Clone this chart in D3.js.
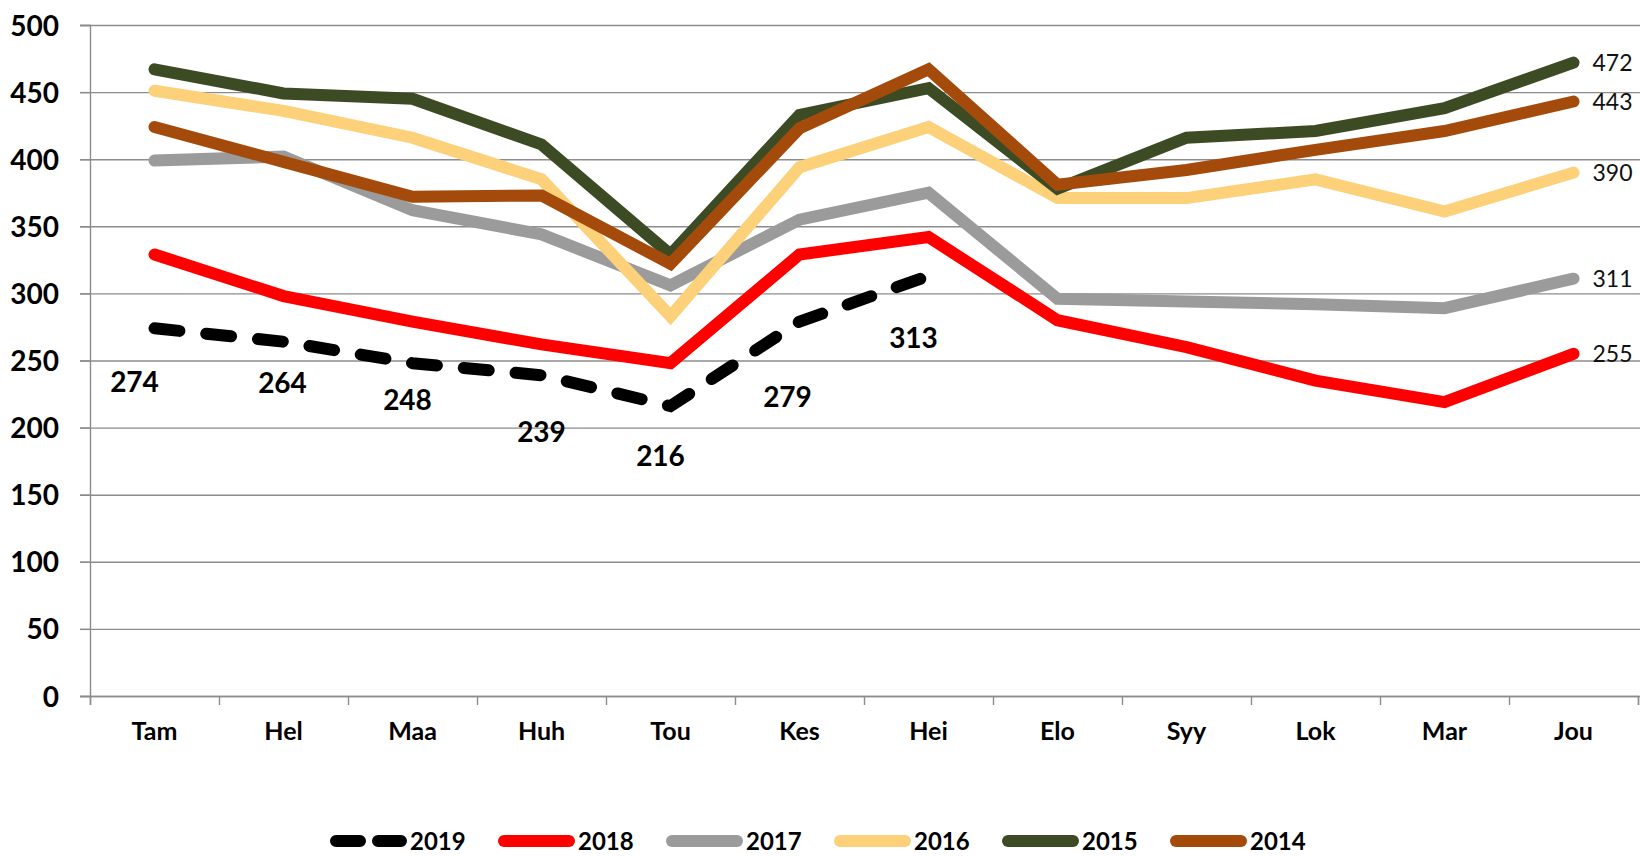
<!DOCTYPE html>
<html><head><meta charset="utf-8">
<script src="https://cdn.jsdelivr.net/npm/d3@7"></script>
<style>
body{margin:0;background:#fff;}
text{font-family:Lato,"Open Sans",sans-serif;}
</style>
</head><body>
<svg id="chart" width="1640" height="856"></svg>
<script>
// ---- data ----
const months = ["Tam","Hel","Maa","Huh","Tou","Kes","Hei","Elo","Syy","Lok","Mar","Jou"];
const years = ["2019","2018","2017","2016","2015","2014"];
const v2019 = [274,264,248,239,216,279,313];
const v2018 = [329,298,279,262,248,329,342,280,260,235,219,255];
const v2017 = [399,402,362,344,306,355,375,296,294,292,289,311];
const v2016 = [451,436,416,385,283,394,424,371,371,385,361,390];
const v2015 = [467,449,445,411,329,433,453,378,416,421,438,472];
const v2014 = [424,398,372,373,322,423,467,381,392,407,421,443];
const yTicks = [0,50,100,150,200,250,300,350,400,450,500];
const endLabelYears = ["2015","2014","2016","2017","2018"];

// ---- styling / layout (not data) ----
const colors = {"2019":"#000000","2018":"#FF0000","2017":"#9B9B9B","2016":"#FDD07A","2015":"#3D4B24","2014":"#A44B0B"};
const valuesByYear = {"2019":v2019,"2018":v2018,"2017":v2017,"2016":v2016,"2015":v2015,"2014":v2014};
// manual label offsets for 2019 labels (dx, dy from the point), as placed in the original
const labelOffsets2019 = [[-20,54],[-1,41],[-5,37],[0,57],[-10,50],[-12,75],[-15,62]];

const svg = d3.select("#chart");
const plotL = 90, plotR = 1638, plotT = 25, plotB = 696;

const x = d3.scaleBand().domain(months).range([plotL, plotR]).paddingInner(0).paddingOuter(0);
const xc = m => x(m) + x.bandwidth()/2;
const y = d3.scaleLinear().domain([0,500]).range([plotB, plotT]);
const xb = d3.scaleLinear().domain([0, months.length]).range([plotL, plotR]);

// gridlines
const grid = svg.append("g").attr("transform", `translate(${plotL-10},0)`)
  .call(d3.axisRight(y).tickValues(yTicks).tickSize(1640-(plotL-10)).tickFormat(""));
grid.select(".domain").remove();
grid.selectAll("line").attr("stroke","#8c8c8c").attr("stroke-width",1.4);

// y axis
const ya = svg.append("g").attr("transform", `translate(${plotL},0)`)
  .call(d3.axisLeft(y).tickValues(yTicks).tickSize(10).tickPadding(21));
ya.select(".domain").attr("stroke","#8c8c8c").attr("stroke-width",1.4);
ya.selectAll("line").attr("stroke","#8c8c8c").attr("stroke-width",1.4);
ya.selectAll("text").attr("font-family","Lato").attr("font-weight","bold").attr("font-size",28).attr("fill","#000").attr("dy","0.36em");

// x axis tick marks at band boundaries
const xt = svg.append("g").attr("transform", `translate(0,${plotB})`)
  .call(d3.axisBottom(xb).tickValues(d3.range(months.length+1)).tickSize(9).tickFormat(""));
xt.select(".domain").attr("stroke","#8c8c8c").attr("stroke-width",1.4);
xt.selectAll("line").attr("stroke","#8c8c8c").attr("stroke-width",1.4);

// x axis labels
const xl = svg.append("g").attr("transform", `translate(0,${plotB})`)
  .call(d3.axisBottom(x).tickSize(0).tickPadding(0));
xl.select(".domain").remove();
xl.selectAll("text").attr("font-family","Lato").attr("font-weight","bold").attr("font-size",25).attr("fill","#000")
  .attr("y",44).attr("dy","0");

// lines (drawn in legend order; later ones on top)
const line = d3.line().x((d,i)=>xc(months[i])).y(d=>y(d));
years.forEach(yr => {
  const p = svg.append("path").datum(valuesByYear[yr])
    .attr("d", line).attr("fill","none").attr("stroke", colors[yr])
    .attr("stroke-width", 12).attr("stroke-linecap","round").attr("stroke-linejoin","miter").attr("stroke-miterlimit",3);
  if (yr === "2019") p.attr("stroke-dasharray","25,27");
});

// 2019 data labels
svg.append("g").selectAll("text").data(v2019).join("text")
  .attr("x",(d,i)=>xc(months[i]) + labelOffsets2019[i][0])
  .attr("y",(d,i)=>y(d) + labelOffsets2019[i][1])
  .attr("dy","0.36em").attr("text-anchor","middle")
  .attr("font-weight","bold").attr("font-size",28).attr("fill","#000")
  .text(d=>d);

// end labels
const lastM = months[months.length-1];
svg.append("g").selectAll("text").data(endLabelYears).join("text")
  .attr("x", xc(lastM) + 19)
  .attr("y", yr => y(valuesByYear[yr][months.length-1]))
  .attr("dy","0.36em").attr("font-size",23).attr("fill","#111")
  .text(yr => valuesByYear[yr][months.length-1]);

// legend
const legendX = d3.scaleBand().domain(years).range([330, 330+168*6]).paddingInner(0).paddingOuter(0);
const lg = svg.append("g").selectAll("g").data(years).join("g")
  .attr("transform", yr => `translate(${legendX(yr)},841)`);
lg.append("line").attr("x1",6).attr("x2",71).attr("y1",0).attr("y2",0)
  .attr("stroke", yr=>colors[yr]).attr("stroke-width",12).attr("stroke-linecap","round")
  .attr("stroke-dasharray", yr => yr==="2019" ? "24,18" : null);
lg.append("text").attr("x",80).attr("y",0).attr("dy","0.36em")
  .attr("font-weight","bold").attr("font-size",24).attr("fill","#000")
  .text(yr=>yr);
</script>
</body></html>
